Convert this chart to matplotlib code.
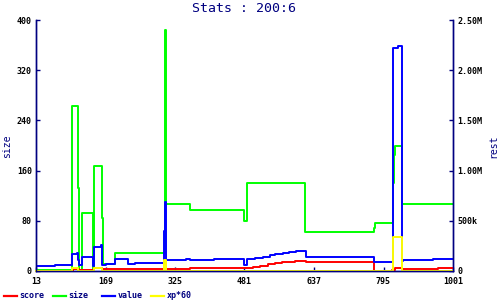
import matplotlib
matplotlib.use('Agg')
import matplotlib.pyplot as plt
from matplotlib.lines import Line2D

NAVY = '#000080'
MONO = 'DejaVu Sans Mono'

# sample index -> labels shown under the axis
x_ticks = [0, 100, 200, 300, 400, 500, 600]
x_labels = ['13', '169', '325', '481', '637', '795', '1001']

size_ticks = [0, 80, 160, 240, 320, 400]
rest_ticks = [0, 500e3, 1.0e6, 1.5e6, 2.0e6, 2.5e6]
rest_labels = ['0', '500k', '1.00M', '1.50M', '2.00M', '2.50M']

# size (left axis)
size_x = [0, 52, 61, 62, 66, 82, 84, 95, 97, 114, 185, 186, 187, 221, 299, 303,
          387, 487, 488, 514, 515, 516, 527, 600]
size_y = [1, 263, 133, 2, 93, 2, 167, 85, 11, 28, 206, 384, 106, 97, 79, 140,
          62, 69, 76, 140, 185, 200, 107, 107]

# value (right axis)
value_x = [0, 28, 52, 59, 61, 62, 66, 82, 84, 93, 95, 101, 114, 132, 143, 184,
           185, 187, 216, 221, 256, 299, 304, 315, 326, 336, 344, 355, 364,
           374, 388, 487, 514, 521, 527, 528, 571, 600]
value_y = [50e3, 62e3, 169e3, 175e3, 106e3, 56e3, 138e3, 50e3, 244e3, 256e3,
           56e3, 69e3, 119e3, 69e3, 81e3, 394e3, 688e3, 106e3, 119e3, 106e3,
           116e3, 60e3, 116e3, 129e3, 142e3, 156e3, 166e3, 176e3, 186e3,
           196e3, 142e3, 88e3, 2.22e6, 2.24e6, 100e3, 109e3, 116e3, 116e3]

# score (right axis)
score_x = [0, 53, 62, 84, 95, 212, 221, 312, 323, 334, 344, 354, 364, 372, 388,
           487, 512, 516, 527, 579, 600]
score_y = [3e3, 19e3, 9e3, 25e3, 16e3, 23e3, 28e3, 40e3, 52e3, 67e3, 77e3,
           87e3, 92e3, 102e3, 89e3, 3e3, 12e3, 25e3, 17e3, 26e3, 26e3]

# xp*60 (right axis)
xp_x = [0, 52, 61, 84, 95, 184, 187, 514, 527, 600]
xp_y = [0, 28e3, 0, 31e3, 0, 106e3, 0, 337e3, 0, 0]

fig = plt.figure(figsize=(5, 3), dpi=100)
ax = fig.add_axes([36 / 500, 29 / 300, 417 / 500, 251 / 300])
ax2 = ax.twinx()

ax.plot(size_x, size_y, drawstyle='steps-post', color='#00ff00', lw=1.4)
ax2.plot(score_x, score_y, drawstyle='steps-post', color='#ff0000', lw=1.4)
ax2.plot(value_x, value_y, drawstyle='steps-post', color='#0000ff', lw=1.4)
ax2.plot(xp_x, xp_y, drawstyle='steps-post', color='#ffff00', lw=1.4,
         clip_on=False)

ax.set_xlim(0, 600)
ax.set_ylim(0, 400)
ax2.set_ylim(0, 2.5e6)

ax.set_xticks(x_ticks)
ax.set_xticklabels(x_labels)
ax.set_yticks(size_ticks)
ax.set_yticklabels([str(v) for v in size_ticks])
ax2.set_yticks(rest_ticks)
ax2.set_yticklabels(rest_labels)

for a in (ax, ax2):
    a.set_facecolor('none')
    a.spines['top'].set_visible(False)
    for s in ('left', 'right', 'bottom'):
        a.spines[s].set_color(NAVY)
        a.spines[s].set_linewidth(1.0)
    a.tick_params(direction='in', length=3, width=1, color=NAVY, pad=3,
                  labelsize=6)
    for lab in a.get_xticklabels() + a.get_yticklabels():
        lab.set_family(MONO)
        lab.set_fontweight('bold')
ax.tick_params(axis='x', pad=4)

# axis titles
fig.text(7 / 500, 1 - 146.5 / 300, 'size', rotation=90, ha='center',
         va='center', family=MONO, fontsize=7, color=NAVY)
fig.text(493 / 500, 1 - 146.5 / 300, 'rest', rotation=90, ha='center',
         va='center', family=MONO, fontsize=7, color=NAVY)

fig.text(244 / 500, 1 - 8 / 300, 'Stats : 200:6', ha='center', va='center',
         family=MONO, fontsize=9.5, color=NAVY)

legend_names = ['score', 'size', 'value', 'xp*60']
legend_colors = ['#ff0000', '#00ff00', '#0000ff', '#ffff00']
for i, (name, col) in enumerate(zip(legend_names, legend_colors)):
    x0 = 4 + 49 * i
    fig.add_artist(Line2D([x0 / 500, (x0 + 13) / 500], [1 - 295.5 / 300] * 2,
                          color=col, lw=1.6))
    fig.text((x0 + 15.5) / 500, 1 - 295.5 / 300, name, ha='left', va='center',
             family=MONO, fontsize=6, fontweight='bold', color=NAVY)

fig.savefig('out.png', dpi=100)
